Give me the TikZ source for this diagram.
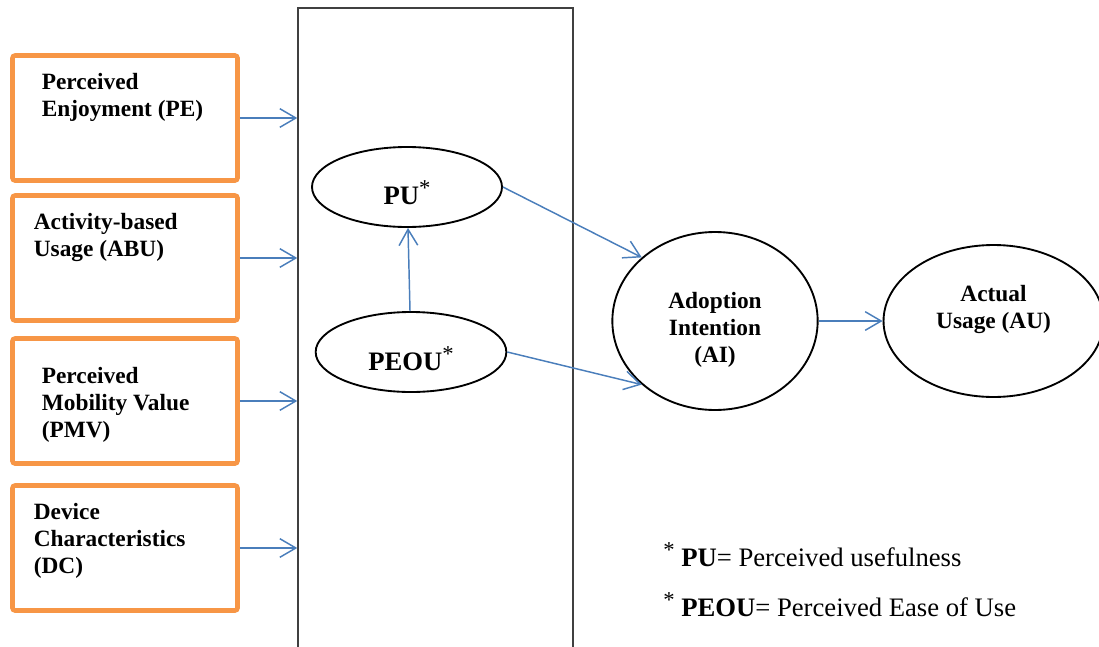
\documentclass[tikz,border=0pt]{standalone}
\usepackage{fontspec}
\setmainfont{Liberation Serif}
\usetikzlibrary{shapes.geometric, arrows.meta, positioning}
\definecolor{factororange}{RGB}{247, 150, 70}
\definecolor{linkblue}{RGB}{74, 126, 187}
\definecolor{framegray}{RGB}{64, 64, 64}
\newcommand{\factorlabel}[3]{\parbox[t][93.75pt][t]{168.75pt}{\leftskip=#1\vspace*{#2}#3}}
\newcommand{\supstar}{\raisebox{6.5pt}{\fontsize{17}{17}\selectfont\mdseries *}}

\begin{document}
\begin{tikzpicture}[
    x=0.75pt, y=-0.75pt,
    factor/.style={rectangle, rounded corners=2pt, draw=factororange, line width=3.5pt, minimum width=168.75pt, minimum height=93.75pt, inner sep=0pt, font=\fontsize{17.5}{20.25}\selectfont\bfseries},
    construct/.style={ellipse, draw, line width=1.4pt, inner sep=0pt, align=center, font=\fontsize{17.5}{20.25}\selectfont\bfseries},
    link/.style={-{Straight Barb[length=12pt, width=14pt]}, draw=linkblue, line width=1.1pt},
    note/.style={anchor=base west, inner sep=0pt, font=\fontsize{20}{24}\selectfont}
]
\useasboundingbox (0,0) rectangle (1099,646);

\node[rectangle, draw=framegray, line width=1.1pt, minimum width=206.25pt, minimum height=489pt] (core) at (435.5,334) {};

\node[factor] (pe) at (125,118) {\factorlabel{22pt}{13pt}{Perceived\\Enjoyment (PE)}};
\node[factor] (abu) at (125,258) {\factorlabel{16pt}{13pt}{Activity-based\\Usage (ABU)}};
\node[factor] (pmv) at (125,401) {\factorlabel{22pt}{21.4pt}{Perceived\\Mobility Value\\(PMV)}};
\node[factor] (dc) at (125,548) {\factorlabel{16pt}{13pt}{Device\\Characteristics\\(DC)}};

\node[construct, minimum width=142.5pt, minimum height=60pt, text height=25.5pt, text depth=0pt, font=\fontsize{20}{24}\selectfont\bfseries] (pu) at (407,187) {PU\supstar};
\node[construct, minimum width=143pt, minimum height=60pt, text height=27pt, text depth=0pt, font=\fontsize{20}{24}\selectfont\bfseries] (peou) at (411,352) {PEOU\supstar};
\node[construct, minimum width=154pt, minimum height=133.5pt, text height=61.5pt, text depth=0pt] (ai) at (715,321) {Adoption\\Intention\\(AI)};
\node[construct, minimum width=165pt, minimum height=114pt, text height=10.5pt, text depth=0pt, right=48pt of ai] (au) {Actual\\Usage (AU)};

\node[note] (fnpu) at (663,566) {\supstar\hspace{5pt}\textbf{PU}= Perceived usefulness};
\node[note] (fnpeou) at (663,616) {\supstar\hspace{5pt}\textbf{PEOU}= Perceived Ease of Use};

\draw[link] (pe) -- (pe -| core.west);
\draw[link] (abu) -- (abu -| core.west);
\draw[link] (pmv) -- (pmv -| core.west);
\draw[link] (dc) -- (dc -| core.west);
\draw[link] (peou) -- (pu);
\draw[link] (pu.east) -- (ai.north west);
\draw[link] (peou.east) -- (ai.south west);
\draw[link] (ai) -- (au);
\end{tikzpicture}
\end{document}
